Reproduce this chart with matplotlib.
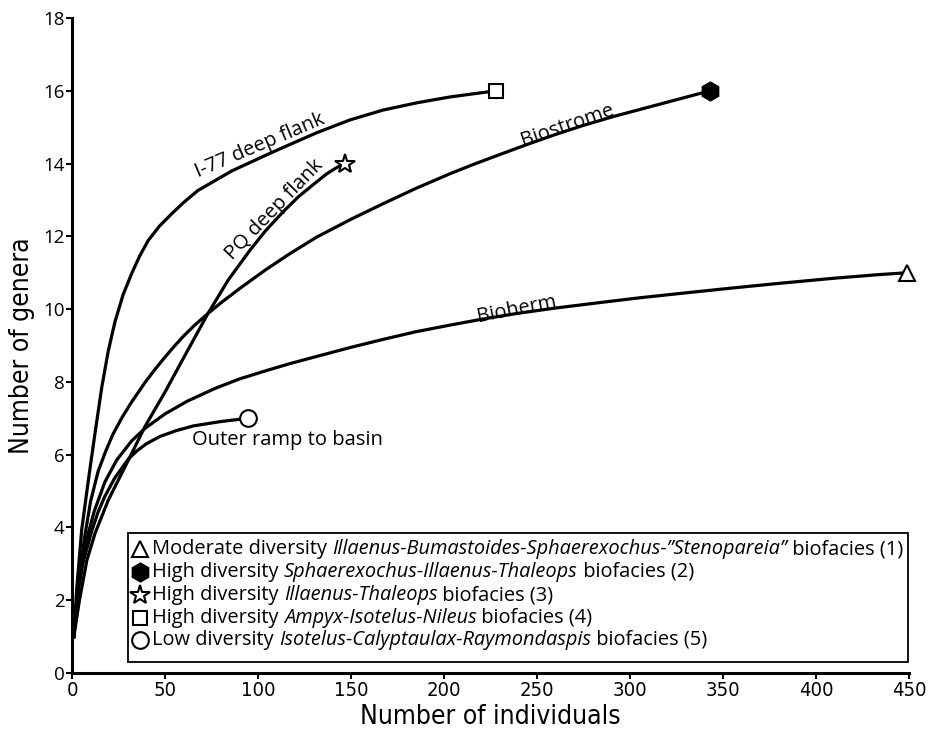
import matplotlib
matplotlib.use("Agg")
import matplotlib.pyplot as plt
from matplotlib.lines import Line2D
from matplotlib.patches import Rectangle
from matplotlib import font_manager as fm

# Rarefaction curves: number of individuals vs expected number of genera
i77_n = [1, 2.5, 5.2, 8.8, 12.4, 16.0, 19.5, 23.1, 27.5, 32.1, 36.5, 40.9, 47, 53.8,
         60, 67.7, 86.0, 103.8, 113.4, 131.7, 149.5, 167.2, 185.5, 203.2, 228]
i77_g = [1, 2.3, 3.93, 5.3, 6.6, 7.85, 8.85, 9.65, 10.4, 10.98, 11.47, 11.88, 12.28, 12.63,
         12.93, 13.26, 13.8, 14.22, 14.44, 14.85, 15.2, 15.47, 15.67, 15.83, 16]

biostrome_n = [1, 2, 3.5, 5, 7, 10, 14.1, 18, 22, 27, 32.1, 39.2, 45, 50, 55, 60, 66, 73.1,
               80, 90, 103.8, 117, 131.6, 150, 167.4, 185, 203.2, 216, 230.1, 245, 260,
               275, 290.9, 310, 326.9, 343]
biostrome_g = [1, 1.7, 2.5, 3.1, 3.8, 4.72, 5.55, 6.08, 6.56, 7.03, 7.45, 7.98, 8.37, 8.68,
               8.98, 9.26, 9.56, 9.88, 10.17, 10.56, 11.07, 11.52, 11.98, 12.47, 12.9, 13.32,
               13.72, 13.98, 14.25, 14.53, 14.8, 15.05, 15.29, 15.55, 15.78, 16]

pq_n = [1, 4, 8, 12.4, 19.5, 30.3, 39.2, 50, 60, 73.1, 84, 95.7, 104, 113.6, 122, 131.6,
        137, 142.3, 146.8]
pq_g = [1, 2.0, 3.1, 3.84, 4.75, 5.85, 6.77, 7.72, 8.66, 9.88, 10.8, 11.62, 12.15, 12.68,
        13.1, 13.5, 13.72, 13.89, 14.0]

bioherm_n = [1, 2, 3.5, 5.5, 8.8, 12, 17.7, 24, 32.1, 39.2, 50, 62, 76.9, 90, 103.8, 117,
             131.6, 150, 167.4, 185, 203.2, 220, 239.1, 260, 283.9, 305, 326.9, 355,
             380.6, 410, 434.4, 449]
bioherm_g = [1, 1.65, 2.4, 3.05, 3.85, 4.45, 5.25, 5.85, 6.38, 6.72, 7.12, 7.47, 7.82, 8.08,
             8.3, 8.5, 8.7, 8.95, 9.17, 9.38, 9.56, 9.72, 9.88, 10.03, 10.18, 10.31, 10.43,
             10.58, 10.71, 10.85, 10.95, 11]

outer_n = [1, 2, 3.5, 6, 10.6, 14, 17.7, 23, 30.3, 34.8, 40, 47.3, 56, 65.2, 80, 94.5]
outer_g = [1, 1.6, 2.3, 3.05, 3.9, 4.42, 4.86, 5.36, 5.88, 6.1, 6.3, 6.5, 6.66, 6.79, 6.91, 7.0]

x_ticks = [0, 50, 100, 150, 200, 250, 300, 350, 400, 450]
y_ticks = [0, 2, 4, 6, 8, 10, 12, 14, 16, 18]

legend_rows = [
    ("^", "white", "Moderate diversity ",
     "Illaenus-Bumastoides-Sphaerexochus-\u201dStenopareia\u201d", " biofacies (1)"),
    ("h", "black", "High diversity ", "Sphaerexochus-Illaenus-Thaleops", " biofacies (2)"),
    ("*", "white", "High diversity ", "Illaenus-Thaleops", " biofacies (3)"),
    ("s", "white", "High diversity ", "Ampyx-Isotelus-Nileus", " biofacies (4)"),
    ("o", "white", "Low diversity ", "Isotelus-Calyptaulax-Raymondaspis", " biofacies (5)"),
]

TEXT_FONT = ["Open Sans", "DejaVu Sans"]

# Condensed face for the axis titles and x tick labels, if one is available
_cond = fm.FontProperties(family="DejaVu Sans", stretch="condensed")
_path = fm.findfont(_cond, fallback_to_default=True)
if "ondensed" in _path:
    COND = dict(family="DejaVu Sans", stretch="condensed")
else:
    COND = dict(family="Roboto")

W, H = 933, 734
fig = plt.figure(figsize=(W / 100, H / 100), dpi=100)
ax = fig.add_axes([72 / W, 61 / H, 837 / W, 655 / H])

curves = [
    (i77_n, i77_g, "s", "white", 10),
    (biostrome_n, biostrome_g, "h", "black", 13),
    (pq_n, pq_g, "*", "white", 15),
    (bioherm_n, bioherm_g, "^", "white", 11),
    (outer_n, outer_g, "o", "white", 12),
]
for n, g, mk, fc, ms in curves:
    ax.plot(n, g, color="black", lw=2.3, solid_joinstyle="round", zorder=3)
    ax.plot([n[-1]], [g[-1]], marker=mk, ms=ms, mfc=fc, mec="black", mew=1.5,
            ls="none", clip_on=False, zorder=5)

ax.set_xlim(0, 450)
ax.set_ylim(0, 18)
ax.set_xticks(x_ticks)
ax.set_yticks(y_ticks)
for side in ("top", "right"):
    ax.spines[side].set_visible(False)
for side in ("left", "bottom"):
    ax.spines[side].set_linewidth(2.2)
ax.tick_params(axis="both", direction="out", length=4, width=1.5)
ax.tick_params(axis="x", pad=2)
ax.tick_params(axis="y", pad=1.5)
for lab in ax.get_xticklabels():
    lab.set_fontproperties(fm.FontProperties(size=14.5, **COND))
for lab in ax.get_yticklabels():
    lab.set_family(TEXT_FONT)
    lab.set_fontsize(13.5)

ax.set_xlabel("Number of individuals", fontsize=19, labelpad=3, **COND)
ax.set_ylabel("Number of genera", fontsize=19, labelpad=6, **COND)

# Curve labels
curve_labels = [
    ("I-77 deep flank", 101.1, 14.5, 23),
    ("PQ deep flank", 109.1, 12.72, 46),
    ("Biostrome", 266.1, 15.06, 19),
    ("Bioherm", 239.2, 10.0, 11),
    ("Outer ramp to basin", 115.6, 6.4, 0),
]
for txt, x, y, rot in curve_labels:
    ax.text(x, y, txt, rotation=rot, rotation_mode="anchor", ha="center", va="center",
            family=TEXT_FONT, fontsize=14.5, zorder=4)

# Legend box drawn in figure pixels
box = Rectangle((128 / W, 1 - 662 / H), (908 - 128) / W, (662 - 533) / H,
                transform=fig.transFigure, fill=True, facecolor="white",
                edgecolor="black", lw=1.3, zorder=10)
fig.add_artist(box)

LEG_FS = 14.4
row_y = [549, 572, 595, 618, 640]
for (mk, fc, pre, ital, post), ypx in zip(legend_rows, row_y):
    yf = 1 - ypx / H
    msize = {"^": 11, "h": 13, "*": 15, "s": 10, "o": 12}[mk]
    fig.add_artist(Line2D([140 / W], [yf], marker=mk, ms=msize, mfc=fc, mec="black",
                          mew=1.5, ls="none", transform=fig.transFigure, zorder=11))
    t1 = fig.text(152 / W, yf, pre, family=TEXT_FONT, fontsize=LEG_FS,
                  ha="left", va="center", zorder=11)
    t2 = fig.add_artist(plt.Annotation(ital, xy=(1, 0), xycoords=t1, xytext=(0, 0),
                                       textcoords="offset points", ha="left", va="bottom",
                                       family=TEXT_FONT, style="italic", fontsize=LEG_FS,
                                       zorder=11))
    fig.add_artist(plt.Annotation(post, xy=(1, 0), xycoords=t2, xytext=(0, 0),
                                  textcoords="offset points", ha="left", va="bottom",
                                  family=TEXT_FONT, fontsize=LEG_FS, zorder=11))

fig.savefig("out.png", dpi=100)
